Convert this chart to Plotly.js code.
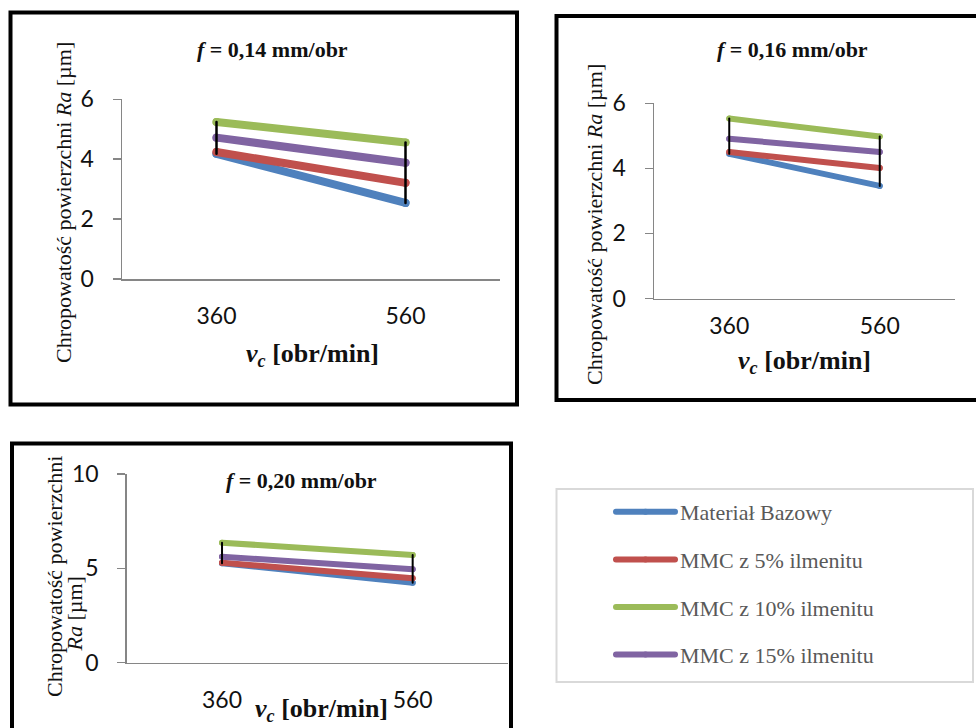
<!DOCTYPE html>
<html>
<head>
<meta charset="utf-8">
<script src="https://cdn.plot.ly/plotly-3.0.1.min.js"></script>
<style>
html,body{margin:0;padding:0;background:#fff;}
#chart{width:976px;height:728px;}
#chart .legendlines path, #chart .scatterlayer .js-line{stroke-linecap:round;}
</style>
</head>
<body>
<div id="chart"></div>
<script>
// ---- data ----
const categories = ['360', '560'];
const seriesNames = ['Materiał Bazowy', 'MMC z 5% ilmenitu', 'MMC z 10% ilmenitu', 'MMC z 15% ilmenitu'];
const seriesColors = ['#4F81BD', '#C0504D', '#9BBB59', '#8064A2'];

const f014_base  = [4.18, 2.54];
const f014_mmc5  = [4.24, 3.21];
const f014_mmc10 = [5.24, 4.56];
const f014_mmc15 = [4.72, 3.88];

const f016_base  = [4.45, 3.46];
const f016_mmc5  = [4.50, 4.01];
const f016_mmc10 = [5.53, 4.98];
const f016_mmc15 = [4.91, 4.50];

const f020_base  = [5.27, 4.24];
const f020_mmc5  = [5.30, 4.47];
const f020_mmc10 = [6.36, 5.71];
const f020_mmc15 = [5.62, 4.95];

const panelTitles = ['<b><i>f</i> = 0,14 mm/obr</b>', '<b><i>f</i> = 0,16 mm/obr</b>', '<b><i>f</i> = 0,20 mm/obr</b>'];
const yTicks1 = [0, 2, 4, 6];
const yTicks2 = [0, 2, 4, 6];
const yTicks3 = [0, 5, 10];
const xTitle = '<b><i>v</i><sub><i>c</i></sub> [obr/min]</b>';
const yTitle = 'Chropowatość powierzchni <i>Ra</i> [µm]';
const yTitle3a = 'Chropowatość powierzchni';
const yTitle3b = '<i>Ra</i> [µm]';

// ---- helpers (pixel -> paper) ----
const W = 976, H = 728;
const px = v => v / W;
const py = v => 1 - v / H;

const panels = [
  {data: [f014_base, f014_mmc5, f014_mmc10, f014_mmc15], ticks: yTicks1, lw: 8, hl: 2.5, ax: '', legend: false},
  {data: [f016_base, f016_mmc5, f016_mmc10, f016_mmc15], ticks: yTicks2, lw: 6, hl: 2, ax: '2', legend: true},
  {data: [f020_base, f020_mmc5, f020_mmc10, f020_mmc15], ticks: yTicks3, lw: 6, hl: 2, ax: '3', legend: false}
];

const traces = [];
panels.forEach(p => {
  p.data.forEach((vals, i) => {
    traces.push({
      type: 'scatter', mode: 'lines+markers',
      x: categories, y: vals,
      name: seriesNames[i], legendgroup: 'g' + i, showlegend: p.legend,
      line: {color: seriesColors[i], width: p.lw},
      marker: {color: seriesColors[i], size: p.lw, line: {width: 0}},
      xaxis: 'x' + p.ax, yaxis: 'y' + p.ax, hoverinfo: 'x+y+name'
    });
  });
  // high-low lines
  const hx = [], hy = [];
  categories.forEach((c, k) => {
    const col = p.data.map(s => s[k]);
    hx.push(c, c, null);
    hy.push(Math.min(...col), Math.max(...col), null);
  });
  traces.push({
    type: 'scatter', mode: 'lines', x: hx, y: hy, showlegend: false,
    line: {color: '#000', width: p.hl}, xaxis: 'x' + p.ax, yaxis: 'y' + p.ax, hoverinfo: 'skip'
  });
});

const tickFont = {family: 'Lato, sans-serif', size: 23, color: '#111'};
function xAx(x0, x1, anchor, standoff) {
  return {domain: [px(x0), px(x1)], anchor: anchor, type: 'category', range: [-0.5, 1.5],
    showline: true, linecolor: '#868686', linewidth: 1.5, ticks: '', showgrid: false, zeroline: false,
    tickfont: tickFont, ticklabelstandoff: standoff, fixedrange: true};
}
function yAx(y0, y1, anchor, ticks) {
  return {domain: [py(y1), py(y0)], anchor: anchor, range: [ticks[0], ticks[ticks.length - 1]],
    tickvals: ticks, ticktext: ticks.map(String),
    showline: true, linecolor: '#868686', linewidth: 1.5, ticks: 'outside', ticklen: 8, tickcolor: '#868686', tickwidth: 1.5,
    showgrid: false, zeroline: false, tickfont: tickFont, ticklabelstandoff: 14, fixedrange: true};
}

const serif = 'Liberation Serif, Times New Roman, serif';
const ann = (text, x, y, size, opts) => Object.assign({
  text: text, xref: 'paper', yref: 'paper', x: px(x), y: py(y), xanchor: 'center', yanchor: 'middle',
  showarrow: false, font: {family: serif, size: size, color: '#111'}
}, opts || {});

const layout = {
  width: W, height: H, margin: {l: 0, r: 0, t: 0, b: 0},
  font: {family: serif},
  paper_bgcolor: '#fff', plot_bgcolor: 'rgba(0,0,0,0)',
  xaxis: xAx(122, 500, 'y', 16), yaxis: yAx(99.3, 279, 'x', yTicks1),
  xaxis2: xAx(654, 955, 'y2', 6), yaxis2: yAx(103.3, 298.5, 'x2', yTicks2),
  xaxis3: xAx(126.7, 508, 'y3', 16), yaxis3: yAx(474, 662.7, 'x3', yTicks3),
  showlegend: true,
  legend: {x: px(611), y: py(491), xanchor: 'left', yanchor: 'top', orientation: 'v',
    traceorder: 'grouped', tracegroupgap: 16, itemwidth: 59, bgcolor: 'rgba(0,0,0,0)', borderwidth: 0,
    font: {family: serif, size: 22, color: '#595959'}},
  annotations: [
    ann(panelTitles[0], 272, 50, 22),
    ann(panelTitles[1], 792, 49.5, 22),
    ann(panelTitles[2], 301, 480.5, 22),
    ann(xTitle, 312, 355, 26),
    ann(xTitle, 804.5, 362, 26),
    ann(xTitle, 321, 710, 26),
    ann(yTitle, 63.5, 202.5, 22, {textangle: -90}),
    ann(yTitle, 594, 225, 22, {textangle: -90}),
    ann(yTitle3a, 54, 577, 22, {textangle: -90}),
    ann(yTitle3b, 73.5, 614, 22, {textangle: -90})
  ],
  shapes: [
    {type: 'rect', xref: 'paper', yref: 'paper', x0: px(10.5), x1: px(517), y0: py(12.5), y1: py(404.5), line: {color: '#000', width: 4}},
    {type: 'rect', xref: 'paper', yref: 'paper', x0: px(556.5), x1: px(985), y0: py(16), y1: py(400), line: {color: '#000', width: 4}},
    {type: 'rect', xref: 'paper', yref: 'paper', x0: px(12), x1: px(511), y0: py(443.5), y1: py(740), line: {color: '#000', width: 4}},
    {type: 'rect', xref: 'paper', yref: 'paper', x0: px(556.5), x1: px(973), y0: py(489), y1: py(682), line: {color: '#D9D9D9', width: 2}}
  ]
};

Plotly.newPlot('chart', traces, layout, {staticPlot: true, displayModeBar: false});
</script>
</body>
</html>
